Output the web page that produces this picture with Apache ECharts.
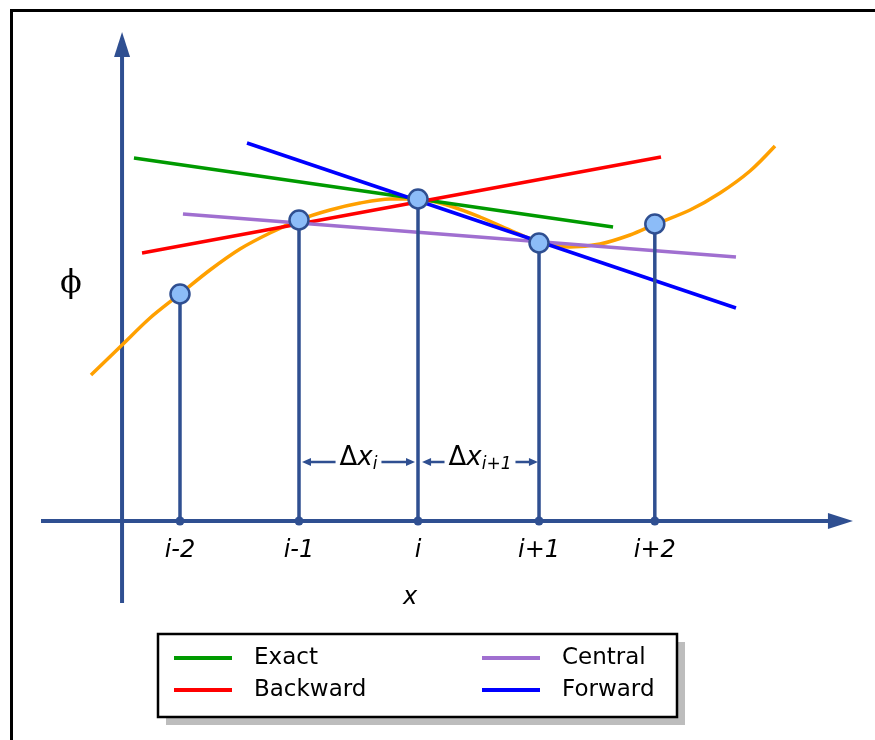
<!DOCTYPE html>
<html>
<head>
<meta charset="utf-8">
<script src="https://cdn.jsdelivr.net/npm/echarts@6/dist/echarts.min.js"></script>
<style>html,body{margin:0;padding:0;background:#fff}#c{width:875px;height:740px}</style>
</head>
<body>
<div id="c"></div>
<script>
// ---- data (x in grid-spacing units, phi in arbitrary units) ----
var tickLabels = ['i-2', 'i-1', 'i', 'i+1', 'i+2'];
var nodeX = [-2, -1, 0, 1.017, 1.99];
var nodePhi = [2.27, 3.01, 3.22, 2.78, 2.97];

var curveX = [-2.748, -2.487, -2.252, -2.0, -1.748, -1.496, -1.244, -1.0, -0.739, -0.487, -0.235, 0, 0.269, 0.521, 0.773, 1.017, 1.277, 1.529, 1.782, 2.0, 2.286, 2.538, 2.790, 3.0];
var curveY = [1.46, 1.76, 2.03, 2.27, 2.51, 2.72, 2.88, 3.01, 3.11, 3.18, 3.22, 3.22, 3.15, 3.04, 2.91, 2.79, 2.74, 2.77, 2.86, 2.97, 3.11, 3.28, 3.50, 3.75];

var exactLine = [[-2.387, 3.63], [1.639, 2.94]];
var backwardLine = [[-2.319, 2.68], [2.042, 3.64]];
var centralLine = [[-1.975, 3.07], [2.672, 2.64]];
var forwardLine = [[-1.437, 3.78], [2.672, 2.13]];

var seriesNames = ['Exact', 'Backward', 'Central', 'Forward'];
var seriesColors = ['#009a00', '#ff0000', '#a06fd0', '#0000ff'];

// axes drawn as arrows: [x0, y0, x1, y1]
var axisArrows = [[-3.168, 0, 3.655, 0], [-2.487, -0.82, -2.487, 4.89]];
// spacing annotations: [x0, x1, y, subscript]
var deltaNotes = [[-0.975, -0.025, 0.59, 'i'], [0.034, 1.008, 0.59, 'i+1']];

var AXIS_COLOR = '#2f4f91';

function zip(xs, ys) { return xs.map(function (x, k) { return [x, ys[k]]; }); }

function arrowShape(p0, p1, L, W, color, width) {
  var dx = p1[0] - p0[0], dy = p1[1] - p0[1];
  var len = Math.sqrt(dx * dx + dy * dy);
  var ux = dx / len, uy = dy / len;
  var bx = p1[0] - ux * L, by = p1[1] - uy * L;
  return [
    { type: 'line', shape: { x1: p0[0], y1: p0[1], x2: bx + ux, y2: by + uy }, style: { stroke: color, lineWidth: width } },
    { type: 'polygon', shape: { points: [[p1[0], p1[1]], [bx - uy * W, by + ux * W], [bx + uy * W, by - ux * W]] }, style: { fill: color } }
  ];
}

var chart = echarts.init(document.getElementById('c'), null, { renderer: 'canvas' });

var lineSeries = [exactLine, backwardLine, centralLine, forwardLine].map(function (d, k) {
  return {
    name: seriesNames[k], type: 'line', data: d, showSymbol: false, symbol: 'none',
    lineStyle: { color: seriesColors[k], width: 3.5 }, itemStyle: { color: seriesColors[k] },
    z: 3, silent: true, clip: false
  };
});

var option = {
  backgroundColor: '#fff',
  animation: false,
  grid: { left: 1.5, top: 21, width: 868.7, height: 700, containLabel: false },
  xAxis: { type: 'value', min: -3.5, max: 3.8, show: false },
  yAxis: { type: 'value', min: -2, max: 5, show: false },
  legend: [
    {
      data: ['Exact', 'Backward'], orient: 'vertical', left: 174, top: 646, padding: 0,
      icon: 'rect', itemWidth: 58, itemHeight: 4, itemGap: 8, z: 10,
      textStyle: { fontFamily: 'DejaVu Sans', fontSize: 23, lineHeight: 24, color: '#000', padding: [0, 0, 0, 17] }
    },
    {
      data: ['Central', 'Forward'], orient: 'vertical', left: 482, top: 646, padding: 0,
      icon: 'rect', itemWidth: 58, itemHeight: 4, itemGap: 8, z: 10,
      textStyle: { fontFamily: 'DejaVu Sans', fontSize: 23, lineHeight: 24, color: '#000', padding: [0, 0, 0, 17] }
    }
  ],
  graphic: [
    { type: 'rect', z: 100, shape: { x: 11.5, y: 10.5, width: 1000, height: 1000 }, style: { fill: 'none', stroke: '#000', lineWidth: 3 } },
    { type: 'rect', z: 1, shape: { x: 166, y: 642, width: 519, height: 83 }, style: { fill: '#bdbdbd' } },
    { type: 'rect', z: 2, shape: { x: 158, y: 634, width: 519, height: 83 }, style: { fill: '#fff', stroke: '#000', lineWidth: 2.5 } },
    { type: 'text', z: 5, style: { text: '\u03D5', x: 71, y: 284, align: 'center', verticalAlign: 'middle', font: '32px "DejaVu Serif", "Liberation Serif"', fill: '#000' } },
    { type: 'text', z: 5, style: { text: 'x', x: 410, y: 598, align: 'center', verticalAlign: 'middle', font: 'italic 24px "DejaVu Sans"', fill: '#000' } }
  ],
  series: [
    {
      type: 'custom', name: 'axes', silent: true, z: 1, clip: false,
      data: axisArrows,
      renderItem: function (params, api) {
        var p0 = api.coord([api.value(0), api.value(1)]);
        var p1 = api.coord([api.value(2), api.value(3)]);
        return { type: 'group', children: arrowShape(p0, p1, 25, 8, AXIS_COLOR, 4) };
      }
    },
    {
      type: 'line', name: 'phi', data: zip(curveX, curveY), smooth: 0.3, showSymbol: false, symbol: 'none',
      lineStyle: { color: '#ffa000', width: 3.5 }, z: 2, silent: true, clip: false
    }
  ].concat(lineSeries).concat([
    {
      type: 'custom', name: 'stems', silent: true, z: 4, clip: false,
      data: zip(nodeX, nodePhi),
      renderItem: function (params, api) {
        var top = api.coord([api.value(0), api.value(1)]);
        var bot = api.coord([api.value(0), 0]);
        return { type: 'line', shape: { x1: bot[0], y1: bot[1], x2: top[0], y2: top[1] }, style: { stroke: AXIS_COLOR, lineWidth: 3.5 } };
      }
    },
    {
      type: 'scatter', name: 'ticks', silent: true, z: 5,
      data: nodeX.map(function (x, k) { return [x, 0, tickLabels[k]]; }),
      symbol: 'circle', symbolSize: 9, itemStyle: { color: AXIS_COLOR, opacity: 1 },
      label: {
        show: true, position: 'bottom', distance: 13,
        formatter: function (p) { return p.data[2]; },
        fontFamily: 'DejaVu Sans', fontStyle: 'italic', fontSize: 24, lineHeight: 24, color: '#000'
      }
    },
    {
      type: 'scatter', name: 'nodes', silent: true, z: 6,
      data: zip(nodeX, nodePhi),
      symbol: 'circle', symbolSize: 19,
      itemStyle: { color: '#8cbcf8', borderColor: AXIS_COLOR, borderWidth: 2.5, opacity: 1 }
    },
    {
      type: 'custom', name: 'deltas', silent: true, z: 5, clip: false,
      data: deltaNotes,
      renderItem: function (params, api) {
        var y = api.value(2);
        var a = api.coord([api.value(0), y]);
        var b = api.coord([api.value(1), y]);
        var sub = deltaNotes[params.dataIndex][3];
        var mid = [(a[0] + b[0]) / 2, a[1]];
        var kids = arrowShape(mid, a, 9, 4, AXIS_COLOR, 2.5).concat(arrowShape(mid, b, 9, 4, AXIS_COLOR, 2.5));
        kids.push({
          type: 'text', z2: 10,
          style: {
            x: mid[0], y: a[1] - 4, align: 'center', verticalAlign: 'middle',
            text: '{D|Δ}{X|x}{S|' + sub + '}',
            backgroundColor: '#fff', padding: [0, 4],
            rich: {
              D: { fontFamily: 'DejaVu Sans', fontSize: 26, lineHeight: 30, verticalAlign: 'middle', fill: '#000' },
              X: { fontFamily: 'DejaVu Sans', fontStyle: 'italic', fontSize: 26, lineHeight: 30, verticalAlign: 'middle', fill: '#000' },
              S: { fontFamily: 'DejaVu Sans', fontStyle: 'italic', fontSize: 17, lineHeight: 12, verticalAlign: 'bottom', fill: '#000' }
            }
          }
        });
        return { type: 'group', children: kids };
      }
    }
  ])
};
chart.setOption(option);
</script>
</body>
</html>
